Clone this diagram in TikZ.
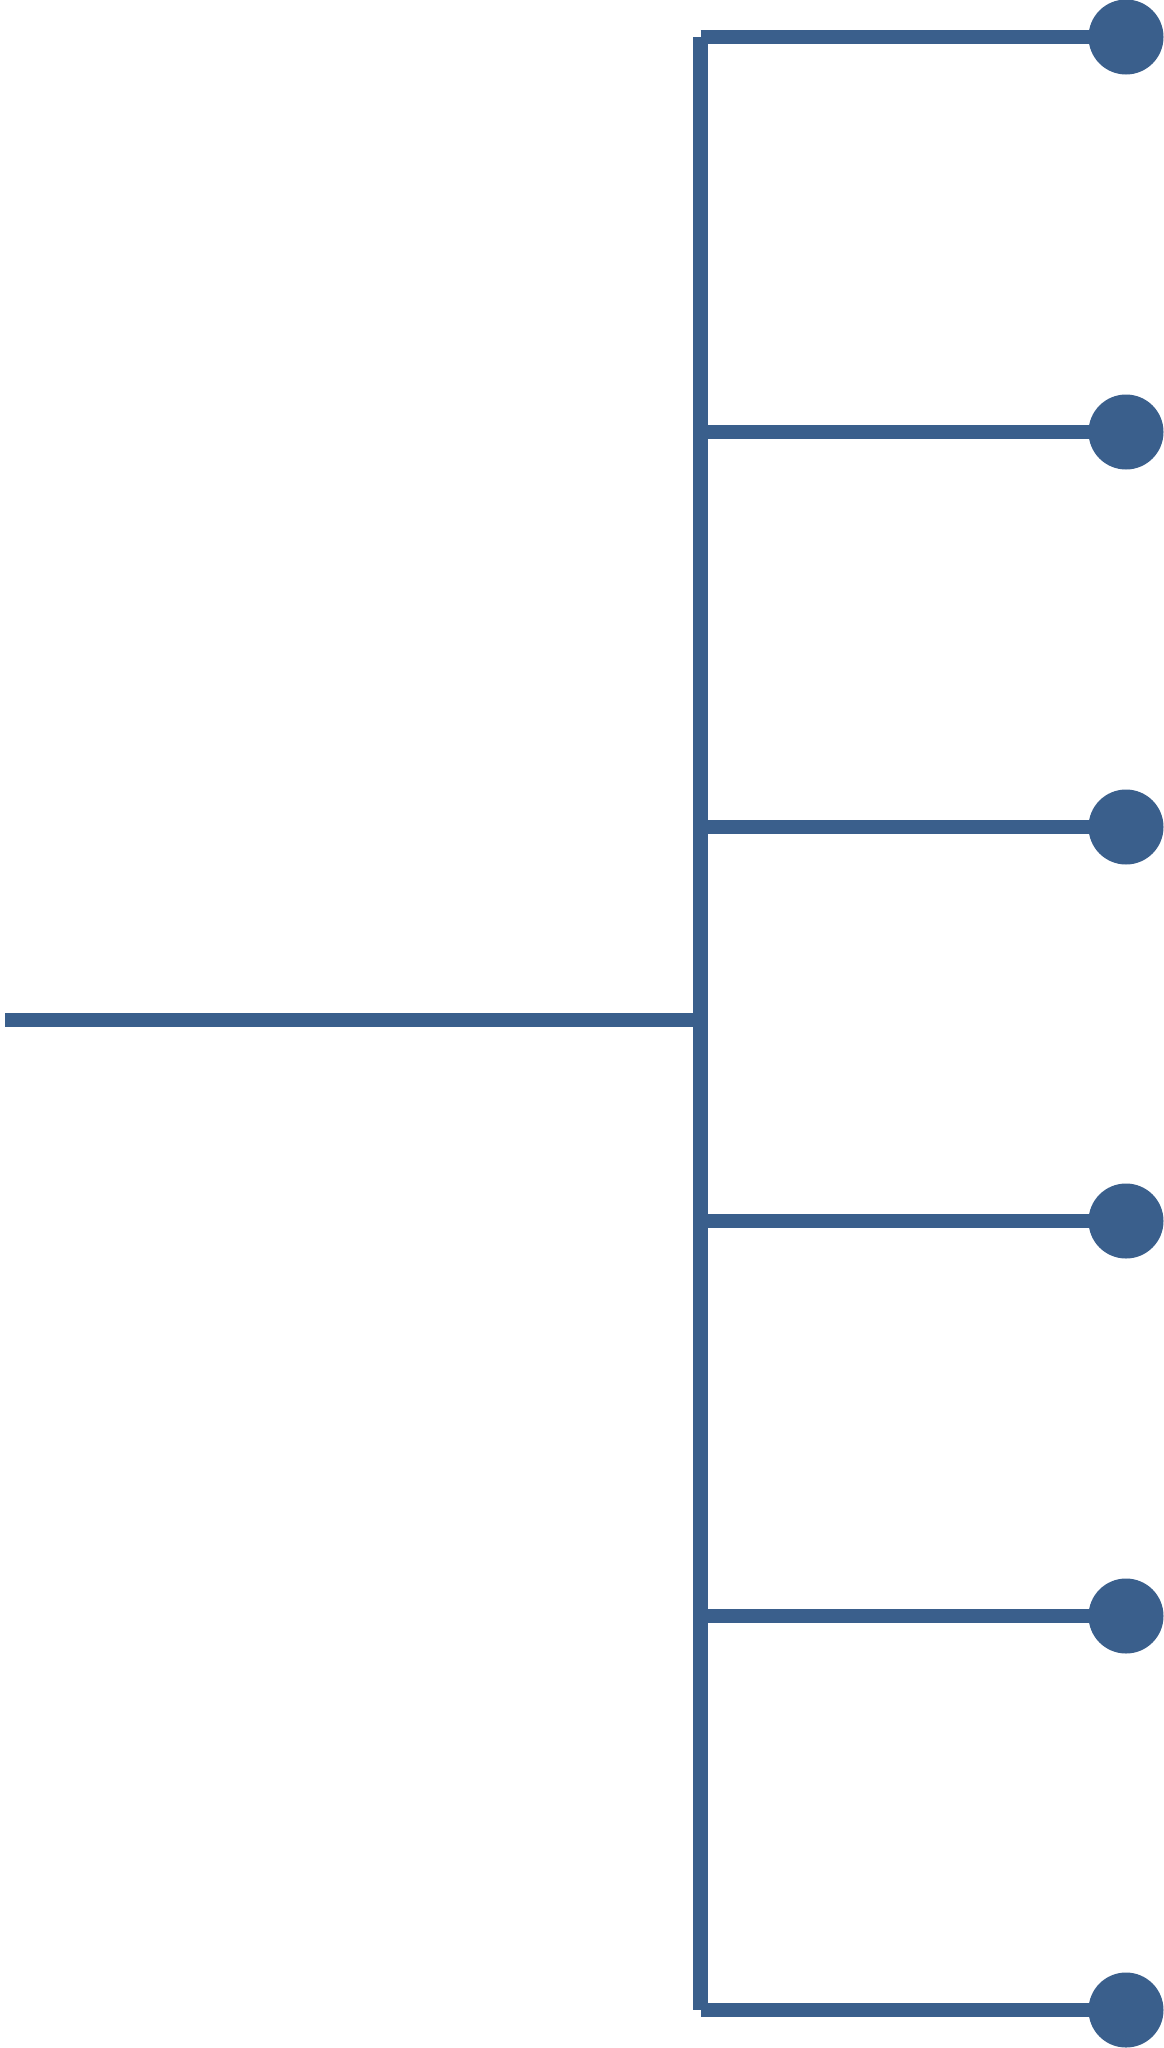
\documentclass[tikz,border=0pt]{standalone}
\definecolor{linec}{RGB}{58,95,140}
\begin{document}
\begin{tikzpicture}[x=1pt,y=-1pt,
  wire/.style={draw=linec,line width=14.5pt},
  dot/.style={circle,fill=linec,inner sep=0pt,minimum size=75pt}]
\fill[white] (0,0) rectangle (1164,2048);
\useasboundingbox (0,0) rectangle (1164,2048);
\coordinate (src) at (5,1020);
\coordinate (mid) at (700.5,1020);
\coordinate (top) at (700.5,37);
\coordinate (bot) at (700.5,2010);
\foreach \i/\y in {1/37,2/432,3/827,4/1221,5/1616,6/2010}{
  \coordinate (j\i) at (700.5,\y);
  \node[dot] (d\i) at (1126,\y) {};
}
\draw[wire] (top) -- (bot);
\draw[wire] (src) -- (mid);
\foreach \i in {1,...,6}{
  \draw[wire] (j\i) -- (d\i.center);
}
\end{tikzpicture}
\end{document}
